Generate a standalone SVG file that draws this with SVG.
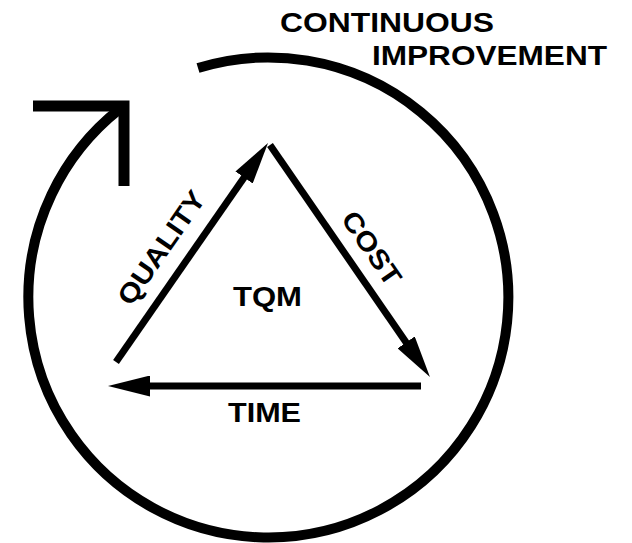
<svg xmlns="http://www.w3.org/2000/svg" width="632" height="543" viewBox="0 0 632 543">
  <style>
    .t { font-family: "Liberation Sans", Arial, Helvetica, sans-serif; font-weight: bold; font-size: 27px; fill: #000; }
    .edge { fill: none; stroke: #000; stroke-width: 7; stroke-linecap: butt; }
    .ring { fill: none; stroke: #000; stroke-width: 10; stroke-linecap: butt; }
  </style>
  <defs>
    <marker id="head" markerUnits="userSpaceOnUse" markerWidth="42" markerHeight="21" viewBox="0 0 42 21" refX="22" refY="10.5" orient="auto">
      <path d="M0,0 L42,10.5 L0,21 Z" fill="#000"/>
    </marker>
  </defs>
  <rect width="632" height="543" fill="#fff"/>

  <g id="continuous-improvement">
    <path class="ring" d="M198,68 A240,240 0 1 1 120,108.8"/>
    <polyline points="33,106 124,106 124,186" fill="none" stroke="#000" stroke-width="11" stroke-linejoin="miter"/>
    <text class="t" x="280" y="32" textLength="214" lengthAdjust="spacingAndGlyphs">CONTINUOUS</text>
    <text class="t" x="372" y="65" textLength="235" lengthAdjust="spacingAndGlyphs">IMPROVEMENT</text>
  </g>

  <g id="tqm">
    <text class="t" x="233" y="305.5" textLength="69" lengthAdjust="spacingAndGlyphs">TQM</text>
  </g>

  <g id="connectors">
    <path id="quality" class="edge" d="M116,362 L256.6,159.4" marker-end="url(#head)" stroke-linecap="round"/>
    <path id="cost" class="edge" d="M270,145 L418.6,360.5" marker-end="url(#head)"/>
    <path id="time" class="edge" d="M421,386 L128,386" stroke-width="6.5" marker-end="url(#head)"/>
  </g>

  <g id="edge-labels">
    <text class="t" x="0" y="0" text-anchor="middle" textLength="132" lengthAdjust="spacingAndGlyphs" transform="translate(169,253) rotate(-55.2)">QUALITY</text>
    <text class="t" x="0" y="0" text-anchor="middle" textLength="84" lengthAdjust="spacingAndGlyphs" transform="translate(364,253.5) rotate(55.4)">COST</text>
    <text class="t" x="228" y="421.5" textLength="73" lengthAdjust="spacingAndGlyphs">TIME</text>
  </g>
</svg>
